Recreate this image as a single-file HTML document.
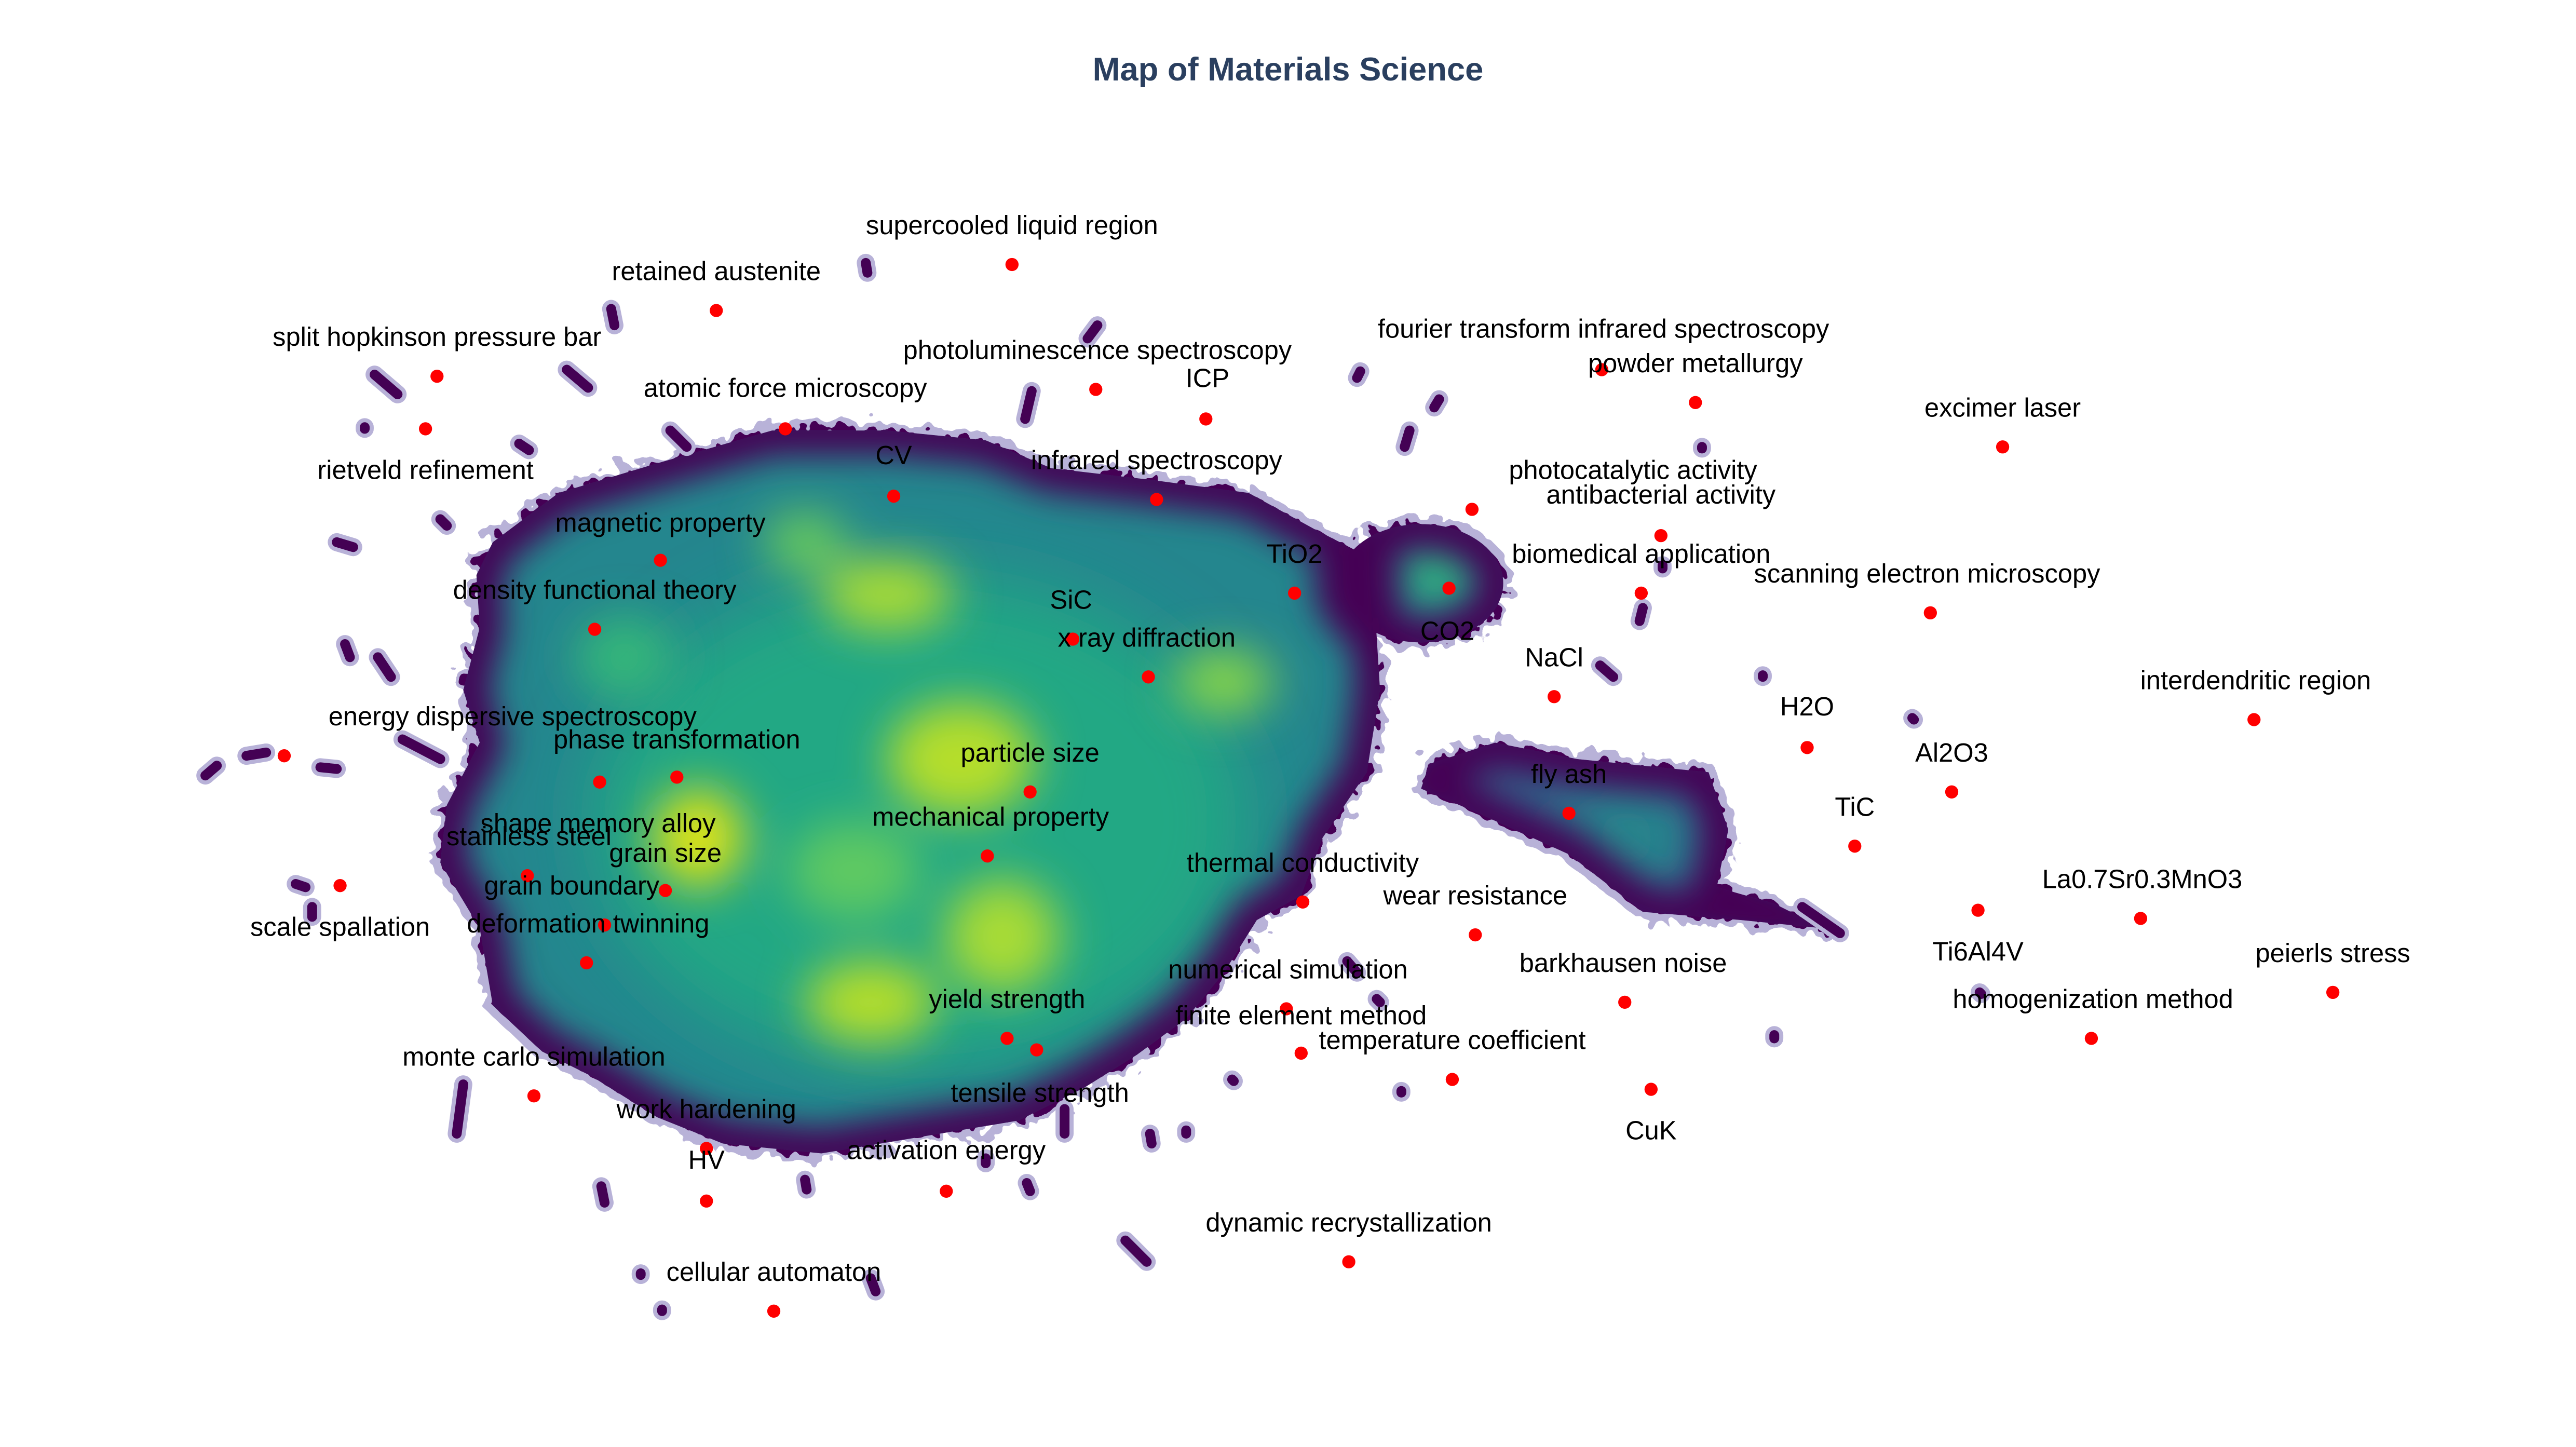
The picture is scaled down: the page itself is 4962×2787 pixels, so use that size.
<!DOCTYPE html>
<html><head><meta charset="utf-8"><style>
html,body{margin:0;padding:0;background:#fff;width:4962px;height:2787px;overflow:hidden}
svg{display:block}
text{font-family:"Liberation Sans",Arial,sans-serif}
</style></head><body>
<svg width="4962" height="2787" viewBox="0 0 1568 880.7" xmlns="http://www.w3.org/2000/svg">
<defs>
<filter id="b1" x="-50%" y="-50%" width="200%" height="200%"><feGaussianBlur stdDeviation="14"/></filter>
<filter id="b2" x="-50%" y="-50%" width="200%" height="200%"><feGaussianBlur stdDeviation="22"/></filter>
<filter id="b3" x="-20%" y="-20%" width="140%" height="140%"><feGaussianBlur stdDeviation="10"/></filter>
<filter id="rough" x="-10%" y="-10%" width="120%" height="120%"><feTurbulence type="fractalNoise" baseFrequency="0.11" numOctaves="2" seed="3"/><feDisplacementMap in="SourceGraphic" scale="18"/></filter>
<path id="mainp" d="M300,330 L340,300 L400,282 L470,262 L540,262 L600,268 L640,285 L700,292 L760,300 L800,322 L835,340 L840,420 L832,470 L805,510 L792,545 L765,560 L745,592 L722,620 L692,642 L660,662 L620,682 L560,692 L500,702 L440,696 L400,680 L360,655 L330,640 L300,612 L292,565 L268,525 L272,490 L292,452 L282,420 L292,382 L290,350 Z"/>
<path id="rp" d="M870,465 L910,452 L960,462 L1040,470 L1052,505 L1045,540 L1080,550 L1110,565 L1060,560 L1000,555 L955,520 L900,495 L865,480 Z"/>
<clipPath id="cm"><use href="#mainp"/><ellipse cx="865" cy="355" rx="50" ry="36"/><use href="#rp"/></clipPath>
</defs>
<rect width="1568" height="880.7" fill="#fff"/>
<text x="784" y="49" text-anchor="middle" font-size="20" font-weight="bold" fill="#2a3f5f">Map of Materials Science</text>

<g filter="url(#rough)">
<g fill="#b8b2d8" stroke="#b8b2d8" stroke-width="10" stroke-linejoin="round">
<use href="#mainp"/><ellipse cx="865" cy="355" rx="50" ry="36"/><use href="#rp"/>
</g>
<g fill="#440154">
<use href="#mainp"/><ellipse cx="865" cy="355" rx="50" ry="36"/><use href="#rp"/>
</g>
</g>

<g clip-path="url(#cm)">
<use href="#mainp" fill="#24868e"/>
<ellipse cx="865" cy="355" rx="50" ry="36" fill="#26828e"/>
<use href="#rp" fill="#31688e"/>
<g filter="url(#b2)">
<ellipse cx="560" cy="500" rx="200" ry="150" fill="#22a884"/>
<ellipse cx="990" cy="510" rx="40" ry="28" fill="#21918c"/>
</g>
<g filter="url(#b1)">
<ellipse cx="540" cy="362" rx="40" ry="22" fill="#a8db34"/>
<ellipse cx="585" cy="462" rx="45" ry="35" fill="#b5de2b"/>
<ellipse cx="425" cy="510" rx="28" ry="30" fill="#dde318"/>
<ellipse cx="610" cy="570" rx="35" ry="35" fill="#a8db34"/>
<ellipse cx="530" cy="610" rx="40" ry="25" fill="#b5de2b"/>
<ellipse cx="745" cy="415" rx="30" ry="20" fill="#86d549"/>
<ellipse cx="490" cy="330" rx="25" ry="18" fill="#6ccd5a"/>
<ellipse cx="380" cy="400" rx="30" ry="25" fill="#35b779"/>
<ellipse cx="520" cy="530" rx="40" ry="30" fill="#5ec962"/>
<ellipse cx="875" cy="350" rx="22" ry="16" fill="#35b779"/>
</g>
<g filter="url(#b3)" fill="none" stroke="#440154" stroke-width="30" stroke-linejoin="round">
<use href="#mainp"/><ellipse cx="865" cy="355" rx="50" ry="36"/><use href="#rp"/>
</g>
</g>

<g stroke-linecap="round" fill="none">
<g stroke="#b8b2d8" stroke-width="11">
<path d="M228,228 L242,240"/><path d="M345,225 L358,236"/><path d="M372,188 L374,198"/><path d="M527,160 L528,166"/><path d="M668,198 L662,206"/><path d="M628,238 L624,255"/><path d="M876,243 L873,248"/><path d="M858,262 L855,272"/><path d="M828,226 L826,230"/><path d="M1036,272 L1036,273"/><path d="M1012,344 L1012,346"/><path d="M974,405 L982,412"/><path d="M1073,411 L1073,412"/><path d="M1164,437 L1165,438"/><path d="M316,270 L322,274"/><path d="M268,316 L272,320"/><path d="M205,330 L215,333"/><path d="M408,262 L418,272"/><path d="M222,260 L222,261"/><path d="M125,472 L132,466"/><path d="M150,460 L162,458"/><path d="M195,467 L205,468"/><path d="M180,538 L186,540"/><path d="M190,552 L190,558"/><path d="M1080,630 L1080,632"/><path d="M1205,604 L1206,605"/><path d="M853,664 L853,665"/><path d="M750,657 L751,658"/><path d="M685,755 L698,768"/><path d="M390,775 L390,776"/><path d="M403,797 L403,798"/><path d="M366,722 L368,732"/><path d="M490,718 L491,724"/><path d="M530,778 L533,786"/><path d="M722,688 L722,690"/><path d="M700,690 L701,696"/><path d="M1097,552 L1120,568"/><path d="M210,392 L213,400"/><path d="M230,400 L238,412"/><path d="M245,450 L268,462"/><path d="M282,660 L278,690"/><path d="M600,705 L600,708"/><path d="M625,720 L627,725"/><path d="M648,675 L648,690"/><path d="M820,585 L826,592"/><path d="M838,608 L840,610"/><path d="M1000,370 L998,378"/>
</g>
<g stroke="#440154" stroke-width="6">
<path d="M228,228 L242,240"/><path d="M345,225 L358,236"/><path d="M372,188 L374,198"/><path d="M527,160 L528,166"/><path d="M668,198 L662,206"/><path d="M628,238 L624,255"/><path d="M876,243 L873,248"/><path d="M858,262 L855,272"/><path d="M828,226 L826,230"/><path d="M1036,272 L1036,273"/><path d="M1012,344 L1012,346"/><path d="M974,405 L982,412"/><path d="M1073,411 L1073,412"/><path d="M1164,437 L1165,438"/><path d="M316,270 L322,274"/><path d="M268,316 L272,320"/><path d="M205,330 L215,333"/><path d="M408,262 L418,272"/><path d="M222,260 L222,261"/><path d="M125,472 L132,466"/><path d="M150,460 L162,458"/><path d="M195,467 L205,468"/><path d="M180,538 L186,540"/><path d="M190,552 L190,558"/><path d="M1080,630 L1080,632"/><path d="M1205,604 L1206,605"/><path d="M853,664 L853,665"/><path d="M750,657 L751,658"/><path d="M685,755 L698,768"/><path d="M390,775 L390,776"/><path d="M403,797 L403,798"/><path d="M366,722 L368,732"/><path d="M490,718 L491,724"/><path d="M530,778 L533,786"/><path d="M722,688 L722,690"/><path d="M700,690 L701,696"/><path d="M1097,552 L1120,568"/><path d="M210,392 L213,400"/><path d="M230,400 L238,412"/><path d="M245,450 L268,462"/><path d="M282,660 L278,690"/><path d="M600,705 L600,708"/><path d="M625,720 L627,725"/><path d="M648,675 L648,690"/><path d="M820,585 L826,592"/><path d="M838,608 L840,610"/><path d="M1000,370 L998,378"/>
</g>
</g>

<g fill="#ff0000">
<circle cx="616" cy="161" r="4"/><circle cx="436" cy="189" r="4"/><circle cx="266" cy="229" r="4"/><circle cx="259" cy="261" r="4"/><circle cx="478" cy="261" r="4"/><circle cx="667" cy="237" r="4"/><circle cx="734" cy="255" r="4"/><circle cx="975" cy="225" r="4"/><circle cx="1032" cy="245" r="4"/><circle cx="1219" cy="272" r="4"/><circle cx="544" cy="302" r="4"/><circle cx="704" cy="304" r="4"/><circle cx="896" cy="310" r="4"/><circle cx="1011" cy="326" r="4"/><circle cx="402" cy="341" r="4"/><circle cx="788" cy="361" r="4"/><circle cx="882" cy="358" r="4"/><circle cx="1175" cy="373" r="4"/><circle cx="362" cy="383" r="4"/><circle cx="653" cy="389" r="4"/><circle cx="699" cy="412" r="4"/><circle cx="999" cy="361" r="4"/><circle cx="946" cy="424" r="4"/><circle cx="1372" cy="438" r="4"/><circle cx="173" cy="460" r="4"/><circle cx="1100" cy="455" r="4"/><circle cx="412" cy="473" r="4"/><circle cx="627" cy="482" r="4"/><circle cx="1188" cy="482" r="4"/><circle cx="955" cy="495" r="4"/><circle cx="601" cy="521" r="4"/><circle cx="365" cy="476" r="4"/><circle cx="321" cy="533" r="4"/><circle cx="405" cy="542" r="4"/><circle cx="1129" cy="515" r="4"/><circle cx="207" cy="539" r="4"/><circle cx="368" cy="563" r="4"/><circle cx="357" cy="586" r="4"/><circle cx="793" cy="549" r="4"/><circle cx="898" cy="569" r="4"/><circle cx="1303" cy="559" r="4"/><circle cx="1204" cy="554" r="4"/><circle cx="1420" cy="604" r="4"/><circle cx="783" cy="614" r="4"/><circle cx="989" cy="610" r="4"/><circle cx="1273" cy="632" r="4"/><circle cx="792" cy="641" r="4"/><circle cx="613" cy="632" r="4"/><circle cx="884" cy="657" r="4"/><circle cx="325" cy="667" r="4"/><circle cx="631" cy="639" r="4"/><circle cx="1005" cy="663" r="4"/><circle cx="430" cy="699" r="4"/><circle cx="430" cy="731" r="4"/><circle cx="576" cy="725" r="4"/><circle cx="821" cy="768" r="4"/><circle cx="471" cy="798" r="4"/>
</g>

<g font-size="16" fill="#000" text-anchor="middle" dominant-baseline="central">
<text x="616" y="137">supercooled liquid region</text>
<text x="436" y="165">retained austenite</text>
<text x="266" y="205">split hopkinson pressure bar</text>
<text x="259" y="286">rietveld refinement</text>
<text x="478" y="236">atomic force microscopy</text>
<text x="668" y="213">photoluminescence spectroscopy</text>
<text x="735" y="230">ICP</text>
<text x="976" y="200">fourier transform infrared spectroscopy</text>
<text x="1032" y="221">powder metallurgy</text>
<text x="1219" y="248">excimer laser</text>
<text x="544" y="277">CV</text>
<text x="704" y="280">infrared spectroscopy</text>
<text x="994" y="286">photocatalytic activity</text>
<text x="1011" y="301">antibacterial activity</text>
<text x="402" y="318">magnetic property</text>
<text x="788" y="337">TiO2</text>
<text x="999" y="337">biomedical application</text>
<text x="1173" y="349">scanning electron microscopy</text>
<text x="362" y="359">density functional theory</text>
<text x="652" y="365">SiC</text>
<text x="698" y="388">x ray diffraction</text>
<text x="881" y="384">CO2</text>
<text x="946" y="400">NaCl</text>
<text x="1373" y="414">interdendritic region</text>
<text x="312" y="436">energy dispersive spectroscopy</text>
<text x="1100" y="430">H2O</text>
<text x="412" y="450">phase transformation</text>
<text x="627" y="458">particle size</text>
<text x="1188" y="458">Al2O3</text>
<text x="955" y="471">fly ash</text>
<text x="603" y="497">mechanical property</text>
<text x="364" y="501">shape memory alloy</text>
<text x="322" y="509">stainless steel</text>
<text x="405" y="519">grain size</text>
<text x="1129" y="491">TiC</text>
<text x="207" y="564">scale spallation</text>
<text x="348" y="539">grain boundary</text>
<text x="358" y="562">deformation twinning</text>
<text x="793" y="525">thermal conductivity</text>
<text x="898" y="545">wear resistance</text>
<text x="1304" y="535">La0.7Sr0.3MnO3</text>
<text x="1204" y="579">Ti6Al4V</text>
<text x="1420" y="580">peierls stress</text>
<text x="784" y="590">numerical simulation</text>
<text x="988" y="586">barkhausen noise</text>
<text x="1274" y="608">homogenization method</text>
<text x="792" y="618">finite element method</text>
<text x="613" y="608">yield strength</text>
<text x="884" y="633">temperature coefficient</text>
<text x="325" y="643">monte carlo simulation</text>
<text x="633" y="665">tensile strength</text>
<text x="1005" y="688">CuK</text>
<text x="430" y="675">work hardening</text>
<text x="430" y="706">HV</text>
<text x="576" y="700">activation energy</text>
<text x="821" y="744">dynamic recrystallization</text>
<text x="471" y="774">cellular automaton</text>
</g>
</svg>
</body></html>
